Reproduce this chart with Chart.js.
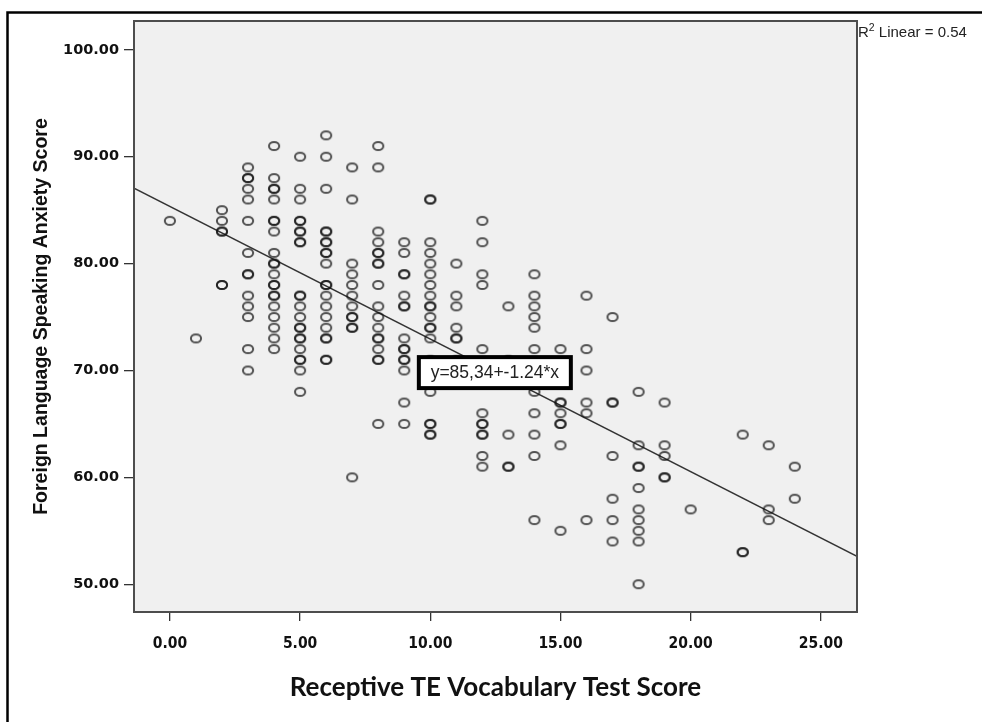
<!DOCTYPE html>
<html>
<head>
<meta charset="utf-8">
<script src="https://cdn.jsdelivr.net/npm/chart.js@4/dist/chart.umd.min.js"></script>
<style>
  body { margin: 0; background: #fff; }
  #wrap { width: 982px; height: 722px; }
</style>
</head>
<body>
<div id="wrap"><canvas id="scatter" width="982" height="722"></canvas></div>
<script>
// vocabulary test score (x) and the anxiety scores observed at each one
const vocabScores = [0, 1, 2, 3, 4, 5, 6, 7, 8, 9, 10, 11, 12, 13, 14, 15, 16, 17, 18, 19, 20, 22, 23, 24];
const anxietyScores = [
    [84],
    [73],
    [85, 84, 83, 83, 78, 78],
    [89, 88, 88, 87, 86, 84, 81, 79, 79, 77, 76, 75, 72, 70],
    [91, 88, 87, 87, 86, 84, 84, 83, 81, 80, 80, 79, 78, 78, 77, 77, 76, 75, 74, 73, 72],
    [90, 87, 86, 84, 84, 83, 83, 82, 82, 77, 77, 76, 75, 74, 74, 73, 73, 72, 71, 71, 70, 68],
    [92, 90, 87, 83, 83, 82, 82, 81, 81, 80, 78, 78, 77, 76, 75, 74, 73, 73, 71, 71],
    [89, 86, 80, 79, 78, 77, 76, 75, 75, 74, 74, 60],
    [91, 89, 83, 82, 81, 81, 80, 80, 78, 76, 75, 74, 73, 73, 72, 71, 71, 65],
    [82, 81, 79, 79, 77, 76, 76, 73, 72, 72, 71, 71, 70, 67, 65],
    [86, 86, 82, 81, 80, 79, 78, 77, 76, 76, 75, 74, 74, 73, 71, 68, 65, 65, 64, 64],
    [80, 77, 76, 74, 73, 73, 71],
    [84, 82, 79, 78, 72, 66, 65, 65, 64, 64, 62, 61],
    [76, 71, 64, 61, 61],
    [79, 77, 76, 75, 74, 72, 68, 66, 64, 62, 56],
    [72, 67, 67, 66, 65, 65, 63, 55],
    [77, 72, 70, 67, 66, 56],
    [75, 67, 67, 62, 58, 56, 54],
    [68, 63, 61, 61, 59, 57, 56, 55, 54, 50],
    [67, 63, 62, 60, 60],
    [57],
    [64, 53, 53],
    [63, 57, 56],
    [61, 58]
];

// fit line from the chart annotation
const fitIntercept = 85.34;
const fitSlope = -1.24;
const fitLabel = 'y=85,34+-1.24*x';
const r2Text = 0.54;

const xTicks = [0, 5, 10, 15, 20, 25];
const yTicks = [50, 60, 70, 80, 90, 100];
const xRange = [-1.38, 26.39];
const yRange = [47.4, 102.7];

const xTitle = 'Receptive TE Vocabulary Test Score';
const yTitle = 'Foreign Language Speaking Anxiety Score';

let points = [];
vocabScores.forEach((x, i) => {
    anxietyScores[i].forEach(y => points.push({ x: x, y: y }));
});

const fitPoints = xRange.map(x => ({ x: x, y: fitIntercept + fitSlope * x }));

// small open ellipse like the SPSS marker
function ringMarker() {
    const c = document.createElement('canvas');
    c.width = 14;
    c.height = 12;
    const g = c.getContext('2d');
    g.strokeStyle = 'rgba(20,20,20,0.72)';
    g.lineWidth = 2;
    g.beginPath();
    g.ellipse(7, 6, 5.1, 4.1, 0, 0, Math.PI * 2);
    g.stroke();
    return c;
}

const decor = {
    id: 'decor',
    beforeDraw(chart) {
        const { ctx, chartArea: a } = chart;
        ctx.save();
        ctx.fillStyle = '#fff';
        ctx.fillRect(0, 0, chart.width, chart.height);
        ctx.fillStyle = '#f0f0f0';
        ctx.fillRect(a.left, a.top, a.right - a.left, a.bottom - a.top);
        ctx.restore();
    },
    afterDatasetsDraw(chart) {
        const { ctx, chartArea: a, scales } = chart;
        ctx.save();
        ctx.strokeStyle = '#4d4d4d';
        ctx.lineWidth = 2;
        ctx.strokeRect(a.left, a.top, a.right - a.left, a.bottom - a.top);

        // equation box
        const cx = scales.x.getPixelForValue(12.48);
        const cy = scales.y.getPixelForValue(69.8);
        const w = 152, h = 31;
        ctx.fillStyle = '#fff';
        ctx.fillRect(cx - w / 2, cy - h / 2, w, h);
        ctx.strokeStyle = '#000';
        ctx.lineWidth = 4;
        ctx.strokeRect(cx - w / 2, cy - h / 2, w, h);
        ctx.fillStyle = '#222';
        ctx.font = '17.5px "Liberation Sans", Arial, sans-serif';
        ctx.textAlign = 'center';
        ctx.textBaseline = 'middle';
        ctx.fillText(fitLabel, cx, cy + 1);
        ctx.restore();
    },
    afterDraw(chart) {
        const { ctx, chartArea: a } = chart;
        ctx.save();
        // outer frame
        ctx.strokeStyle = '#000';
        ctx.lineWidth = 2.5;
        ctx.strokeRect(7.5, 12.5, 1100, 1100);

        // R squared note
        ctx.fillStyle = '#222';
        ctx.textBaseline = 'alphabetic';
        ctx.textAlign = 'left';
        let x = a.right + 1;
        ctx.font = '15px "Liberation Sans", Arial, sans-serif';
        ctx.fillText('R', x, 37);
        x += ctx.measureText('R').width;
        ctx.font = '10.5px "Liberation Sans", Arial, sans-serif';
        ctx.fillText('2', x, 31);
        x += ctx.measureText('2').width;
        ctx.font = '15px "Liberation Sans", Arial, sans-serif';
        ctx.fillText(' Linear = ' + r2Text.toFixed(2), x, 37);
        ctx.restore();
    }
};

const ctx = document.getElementById('scatter').getContext('2d');
const chart = new Chart(ctx, {
    type: 'scatter',
    data: {
        datasets: [{
            label: 'Scores',
            data: points,
            pointStyle: ringMarker(),
            pointRadius: 5,
            pointHoverRadius: 5
        }, {
            type: 'line',
            label: 'Linear fit',
            data: fitPoints,
            borderColor: '#333',
            borderWidth: 1.4,
            pointRadius: 0,
            fill: false
        }]
    },
    options: {
        responsive: false,
        animation: false,
        layout: { padding: { top: 21, right: 125, left: 0, bottom: 0 } },
        plugins: {
            legend: { display: false },
            tooltip: { enabled: false }
        },
        scales: {
            x: {
                type: 'linear',
                min: xRange[0],
                max: xRange[1],
                afterFit: s => { s.height = 110; },
                afterBuildTicks: s => { s.ticks = xTicks.map(v => ({ value: v })); },
                ticks: {
                    callback: v => v.toFixed(2),
                    color: '#111',
                    font: { family: '"DejaVu Sans Condensed", "DejaVu Sans", sans-serif', size: 15.5, weight: 'bold' },
                    padding: 14,
                    maxRotation: 0,
                    autoSkip: false
                },
                grid: { drawOnChartArea: false, drawTicks: true, tickLength: 9, color: '#333', lineWidth: 1.3 },
                border: { display: false },
                title: {
                    display: true,
                    text: xTitle,
                    color: '#111',
                    font: { family: 'Lato, "Open Sans", sans-serif', size: 26, weight: 'bold' },
                    padding: { top: 0, bottom: 19 }
                }
            },
            y: {
                type: 'linear',
                min: yRange[0],
                max: yRange[1],
                afterFit: s => { s.width = 134; },
                afterBuildTicks: s => { s.ticks = yTicks.map(v => ({ value: v })); },
                ticks: {
                    callback: v => v.toFixed(2),
                    color: '#111',
                    font: { family: '"DejaVu Sans", sans-serif', size: 14.5, weight: 'bold' },
                    padding: 5
                },
                grid: { drawOnChartArea: false, drawTicks: true, tickLength: 10, color: '#333', lineWidth: 1.3 },
                border: { display: false },
                title: {
                    display: true,
                    text: yTitle,
                    color: '#111',
                    font: { family: '"Liberation Sans", Arial, sans-serif', size: 19.5, weight: 'bold' },
                    padding: { top: 30, bottom: 0 }
                }
            }
        }
    },
    plugins: [decor]
});
</script>
</body>
</html>
